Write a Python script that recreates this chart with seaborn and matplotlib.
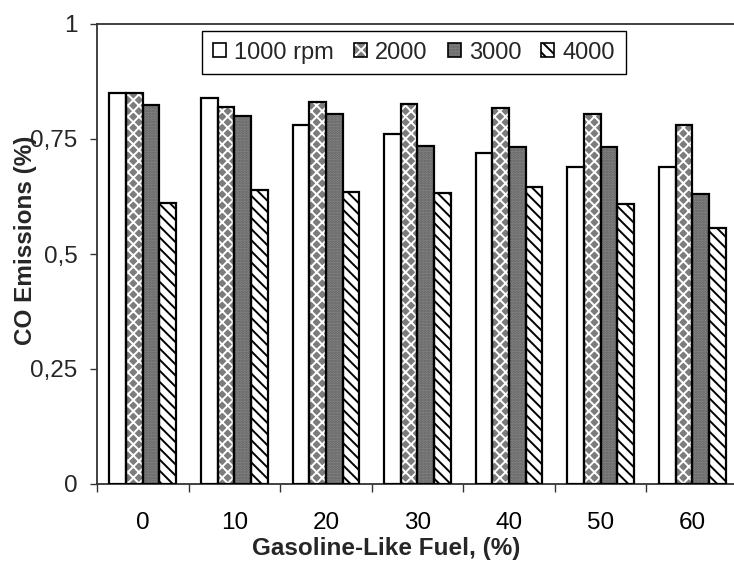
import pandas as pd
import numpy as np
import matplotlib
matplotlib.use("Agg")
import matplotlib.pyplot as plt
import seaborn as sns
from matplotlib.patches import Patch, Rectangle
from matplotlib.ticker import FixedLocator

# Data
fuel = ["0", "10", "20", "30", "40", "50", "60"]
speeds = ["1000 rpm", "2000", "3000", "4000"]
co_1000 = [0.85, 0.84, 0.78, 0.76, 0.72, 0.69, 0.69]
co_2000 = [0.85, 0.82, 0.83, 0.826, 0.817, 0.805, 0.78]
co_3000 = [0.825, 0.80, 0.805, 0.735, 0.732, 0.732, 0.63]
co_4000 = [0.61, 0.64, 0.635, 0.633, 0.646, 0.608, 0.557]
ytick_vals = [0, 0.25, 0.5, 0.75, 1]
ytick_labels = ["0", "0,25", "0,5", "0,75", "1"]

# Long format table for seaborn
rows = []
for name, vals in zip(speeds, [co_1000, co_2000, co_3000, co_4000]):
    for f, v in zip(fuel, vals):
        rows.append({"fuel": f, "speed": name, "co": v})
df = pd.DataFrame(rows)

sns.set_theme(style="white")
plt.rcParams["font.family"] = ["Liberation Sans", "DejaVu Sans"]
plt.rcParams["hatch.linewidth"] = 1.4

# fill colour, hatch, hatch colour per series
styles = {
    "1000 rpm": ("white", "", "white"),
    "2000": ("#7c7c7c", "xxx", "white"),
    "3000": ("#8a8a8a", "......", "#5e5e5e"),
    "4000": ("white", "\\\\\\", "black"),
}

fig = plt.figure(figsize=(7.34, 5.63), dpi=100)
ax = fig.add_axes([97 / 734, 1 - 484 / 563, 641 / 734, 460 / 563])

sns.barplot(data=df, x="fuel", y="co", hue="speed", order=fuel, hue_order=speeds,
            palette=[styles[s][0] for s in speeds], width=0.73, gap=0,
            saturation=1, legend=False, ax=ax)

# hatches drawn in their own colour, then a black outline on top
for cont, name in zip(ax.containers, speeds):
    face, hatch, hcol = styles[name]
    for p in cont.patches:
        p.set_hatch(hatch)
        p.set_edgecolor(hcol)
        p.set_linewidth(0)
        ax.add_patch(Rectangle(p.get_xy(), p.get_width(), p.get_height(),
                               fill=False, edgecolor="black", linewidth=1.6, zorder=3))

ax.set_xlim(-0.5, len(fuel) - 0.5)
ax.set_ylim(0, 1)
ax.set_yticks(ytick_vals)
ax.set_yticklabels(ytick_labels)
ax.xaxis.set_minor_locator(FixedLocator(np.arange(-0.5, len(fuel), 1.0)))
ax.tick_params(axis="x", which="major", length=0, pad=20, labelsize=17.5, colors="black")
ax.tick_params(axis="x", which="minor", length=6, width=1, color="#333333", direction="out",
               bottom=True)
ax.tick_params(axis="y", length=5, width=1, color="#333333", direction="out", left=True,
               pad=9, labelsize=17.5)

for side in ["left", "bottom", "top"]:
    ax.spines[side].set_visible(True)
    ax.spines[side].set_color("#333333")
    ax.spines[side].set_linewidth(1.3)
ax.spines["right"].set_visible(False)

ax.set_xlabel("Gasoline-Like Fuel, (%)", fontsize=17.5, fontweight="bold")
ax.set_ylabel("CO Emissions (%)", fontsize=17.5, fontweight="bold")
ax.xaxis.set_label_coords(0.451, -0.115)
ax.yaxis.set_label_coords(-0.094, 0.53)

# Legend with hatched squares and black outlines
handles = []
for name in speeds:
    face, hatch, hcol = styles[name]
    fill = Patch(facecolor=face, hatch=hatch, edgecolor=hcol, linewidth=0)
    edge = Patch(facecolor="none", edgecolor="black", linewidth=1.2)
    handles.append((fill, edge))
leg = ax.legend(handles, speeds, ncol=4, loc="upper left", bbox_to_anchor=(0.164, 0.985),
                borderaxespad=0, fontsize=17, handlelength=0.55, handleheight=0.55,
                handletextpad=0.35, columnspacing=0.85, borderpad=0.45,
                frameon=True, fancybox=False, framealpha=1)
leg.get_frame().set_edgecolor("black")
leg.get_frame().set_linewidth(1.0)

fig.savefig("out.png", dpi=100)
